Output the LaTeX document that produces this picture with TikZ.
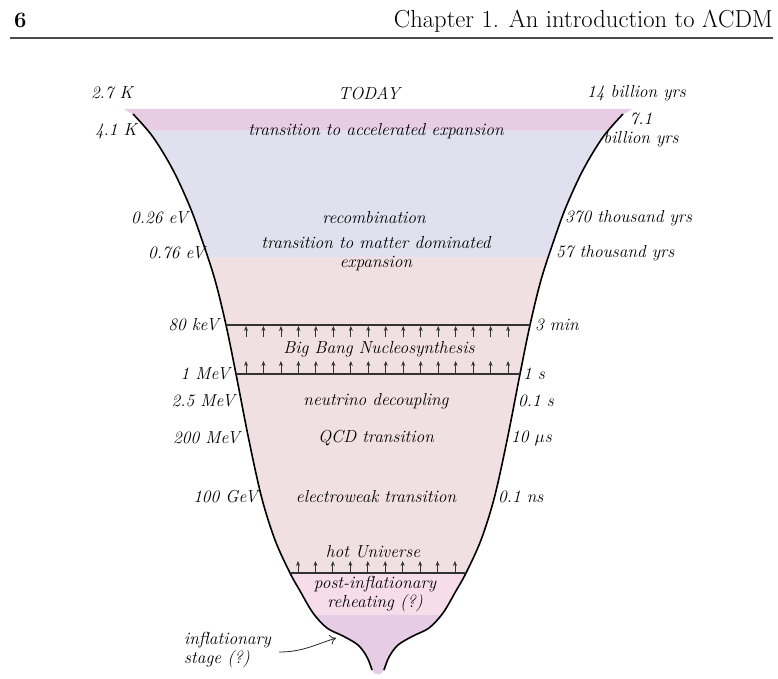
\documentclass[tikz,border=0pt]{standalone}
\usetikzlibrary{arrows.meta}
\definecolor{cTop}{HTML}{E8CCE3}
\definecolor{cBlue}{HTML}{E1E0EE}
\definecolor{cPink}{HTML}{F1E0E2}
\definecolor{cReh}{HTML}{F6DDE9}
\definecolor{cInf}{HTML}{E6CCE5}
\definecolor{cLine}{HTML}{333333}
\begin{document}
\begin{tikzpicture}[x=1pt,y=-1pt,
  lab/.style={font=\fontsize{17.4}{18.8}\selectfont\itshape, inner sep=0pt},
  outl/.style={line width=1.6pt, black},
  hline/.style={line width=1.1pt, cLine},
  uparr/.style={line width=0.8pt, cLine, -{Stealth[length=5pt,width=4pt]}},
  infarr/.style={line width=0.8pt, black!85, -{To[length=6pt,width=10pt]}}]
\useasboundingbox (0,0) rectangle (778,679);
% header
\node[anchor=base west, inner sep=0pt, font=\fontsize{22}{26}\selectfont\bfseries] (pg) at (14,28) {6};
\node[anchor=base east, inner sep=0pt, font=\fontsize{24.6}{28}\selectfont] (hd) at (773,28) {Chapter 1. An introduction to $\Lambda$CDM};
\coordinate (rl) at (10,38);
\coordinate (rr) at (773,38);
\draw[line width=1.1pt, black!70] (rl) -- (rr);
% funnel fill with bands
\begin{scope}
\clip (124,109) -- (632,109) -- (626,113) -- plot[smooth,tension=.55] coordinates {(623,114) (603,137) (583,170) (566,207) (554,240) (541,280) (530,325) (520,374) (507.5,438) (494.5,497) (481,540) (466,573) (456.5,590) (443,613) (429,628) (413,636) (398,645) (389,657) (384,670)}
  .. controls (382,676) and (374,676) .. (372,670)
  -- plot[smooth,tension=.55] coordinates {(372,670) (367,657) (358,645) (343,636) (327,628) (313,613) (299.5,590) (290,573) (275,540) (261.5,497) (248.5,438) (236,374) (226,325) (215,280) (202,240) (190,207) (173,170) (153,137) (133,114)}
  -- (130,113) -- cycle;
\fill[cTop] (100,100) rectangle (660,130);
\fill[cBlue] (100,130) rectangle (660,257);
\fill[cPink] (100,257) rectangle (660,573);
\fill[cReh] (100,573) rectangle (660,615);
\fill[cInf] (100,615) rectangle (660,680);
\end{scope}
% outline
\draw[outl] plot[smooth,tension=.55] coordinates {(133,114) (153,137) (173,170) (190,207) (202,240) (215,280) (226,325) (236,374) (248.5,438) (261.5,497) (275,540) (290,573) (299.5,590) (313,613) (327,628) (343,636) (358,645) (367,657) (372,670)};
\draw[outl] plot[smooth,tension=.55] coordinates {(623,114) (603,137) (583,170) (566,207) (554,240) (541,280) (530,325) (520,374) (507.5,438) (494.5,497) (481,540) (466,573) (456.5,590) (443,613) (429,628) (413,636) (398,645) (389,657) (384,670)};
% horizontal lines
\coordinate (L1) at (226,325); \coordinate (R1) at (530,325);
\coordinate (L2) at (236,374); \coordinate (R2) at (520,374);
\coordinate (L3) at (290,573); \coordinate (R3) at (466,573);
\draw[hline] (L1) -- (R1);
\draw[hline] (L2) -- (R2);
\draw[hline] (L3) -- (R3);
\foreach \i in {0,...,15} {
  \draw[uparr] (246+17.47*\i,337) -- ++(0,-11);
  \draw[uparr] (246+17.47*\i,373) -- ++(0,-12);
}
\foreach \i in {0,...,9} {
  \draw[uparr] (298+17.44*\i,572) -- ++(0,-11);
}
% left labels
\node[lab, anchor=east] (t27) at (133,93) {2.7 K};
\node[lab, anchor=east] (t41) at (137,131) {4.1 K};
\node[lab, anchor=east] (e026) at (188,218) {0.26 eV};
\node[lab, anchor=east] (e076) at (205,253) {0.76 eV};
\node[lab, anchor=east] (e80) at (219,325) {80 keV};
\node[lab, anchor=east] (e1) at (230,374) {1 MeV};
\node[lab, anchor=east] (e25) at (235,401) {2.5 MeV};
\node[lab, anchor=east] (e200) at (240,438) {200 MeV};
\node[lab, anchor=east] (e100) at (258,497) {100 GeV};
% right labels
\node[lab, anchor=west] (y14) at (587,93) {14 billion yrs};
\node[lab, align=center] (y71) at (641,130) {7.1\\billion yrs};
\node[lab, anchor=west] (y370) at (565,218) {370 thousand yrs};
\node[lab, anchor=west] (y57) at (556,253) {57 thousand yrs};
\node[lab, anchor=west] (y3) at (535,325) {3 min};
\node[lab, anchor=west] (y1) at (523,374) {1 s};
\node[lab, anchor=west] (y01) at (518,401) {0.1 s};
\node[lab, anchor=west] (y10) at (511,438) {10 $\mu$s};
\node[lab, anchor=west] (y01n) at (498,497) {0.1 ns};
% centre labels
\node[lab] (today) at (369,93) {TODAY};
\node[lab] (acc) at (376,131) {transition to accelerated expansion};
\node[lab] (rec) at (374,218) {recombination};
\node[lab, align=center] (mat) at (376,254) {transition to matter dominated\\expansion};
\node[lab] (bbn) at (379,349) {Big Bang Nucleosynthesis};
\node[lab] (nu) at (376,401) {neutrino decoupling};
\node[lab] (qcd) at (376,438) {QCD transition};
\node[lab] (ew) at (376,497) {electroweak transition};
\node[lab] (hot) at (373,552) {hot Universe};
\node[lab, align=center] (reh) at (375,594) {post-inflationary\\reheating (?)};
\node[lab, align=left, anchor=west] (inf) at (184,650) {inflationary\\stage (?)};
\coordinate (itail) at (279,652);
\coordinate (itip) at (336,638);
\draw[infarr] (itail) to[out=0,in=198] (itip);
\end{tikzpicture}
\end{document}
